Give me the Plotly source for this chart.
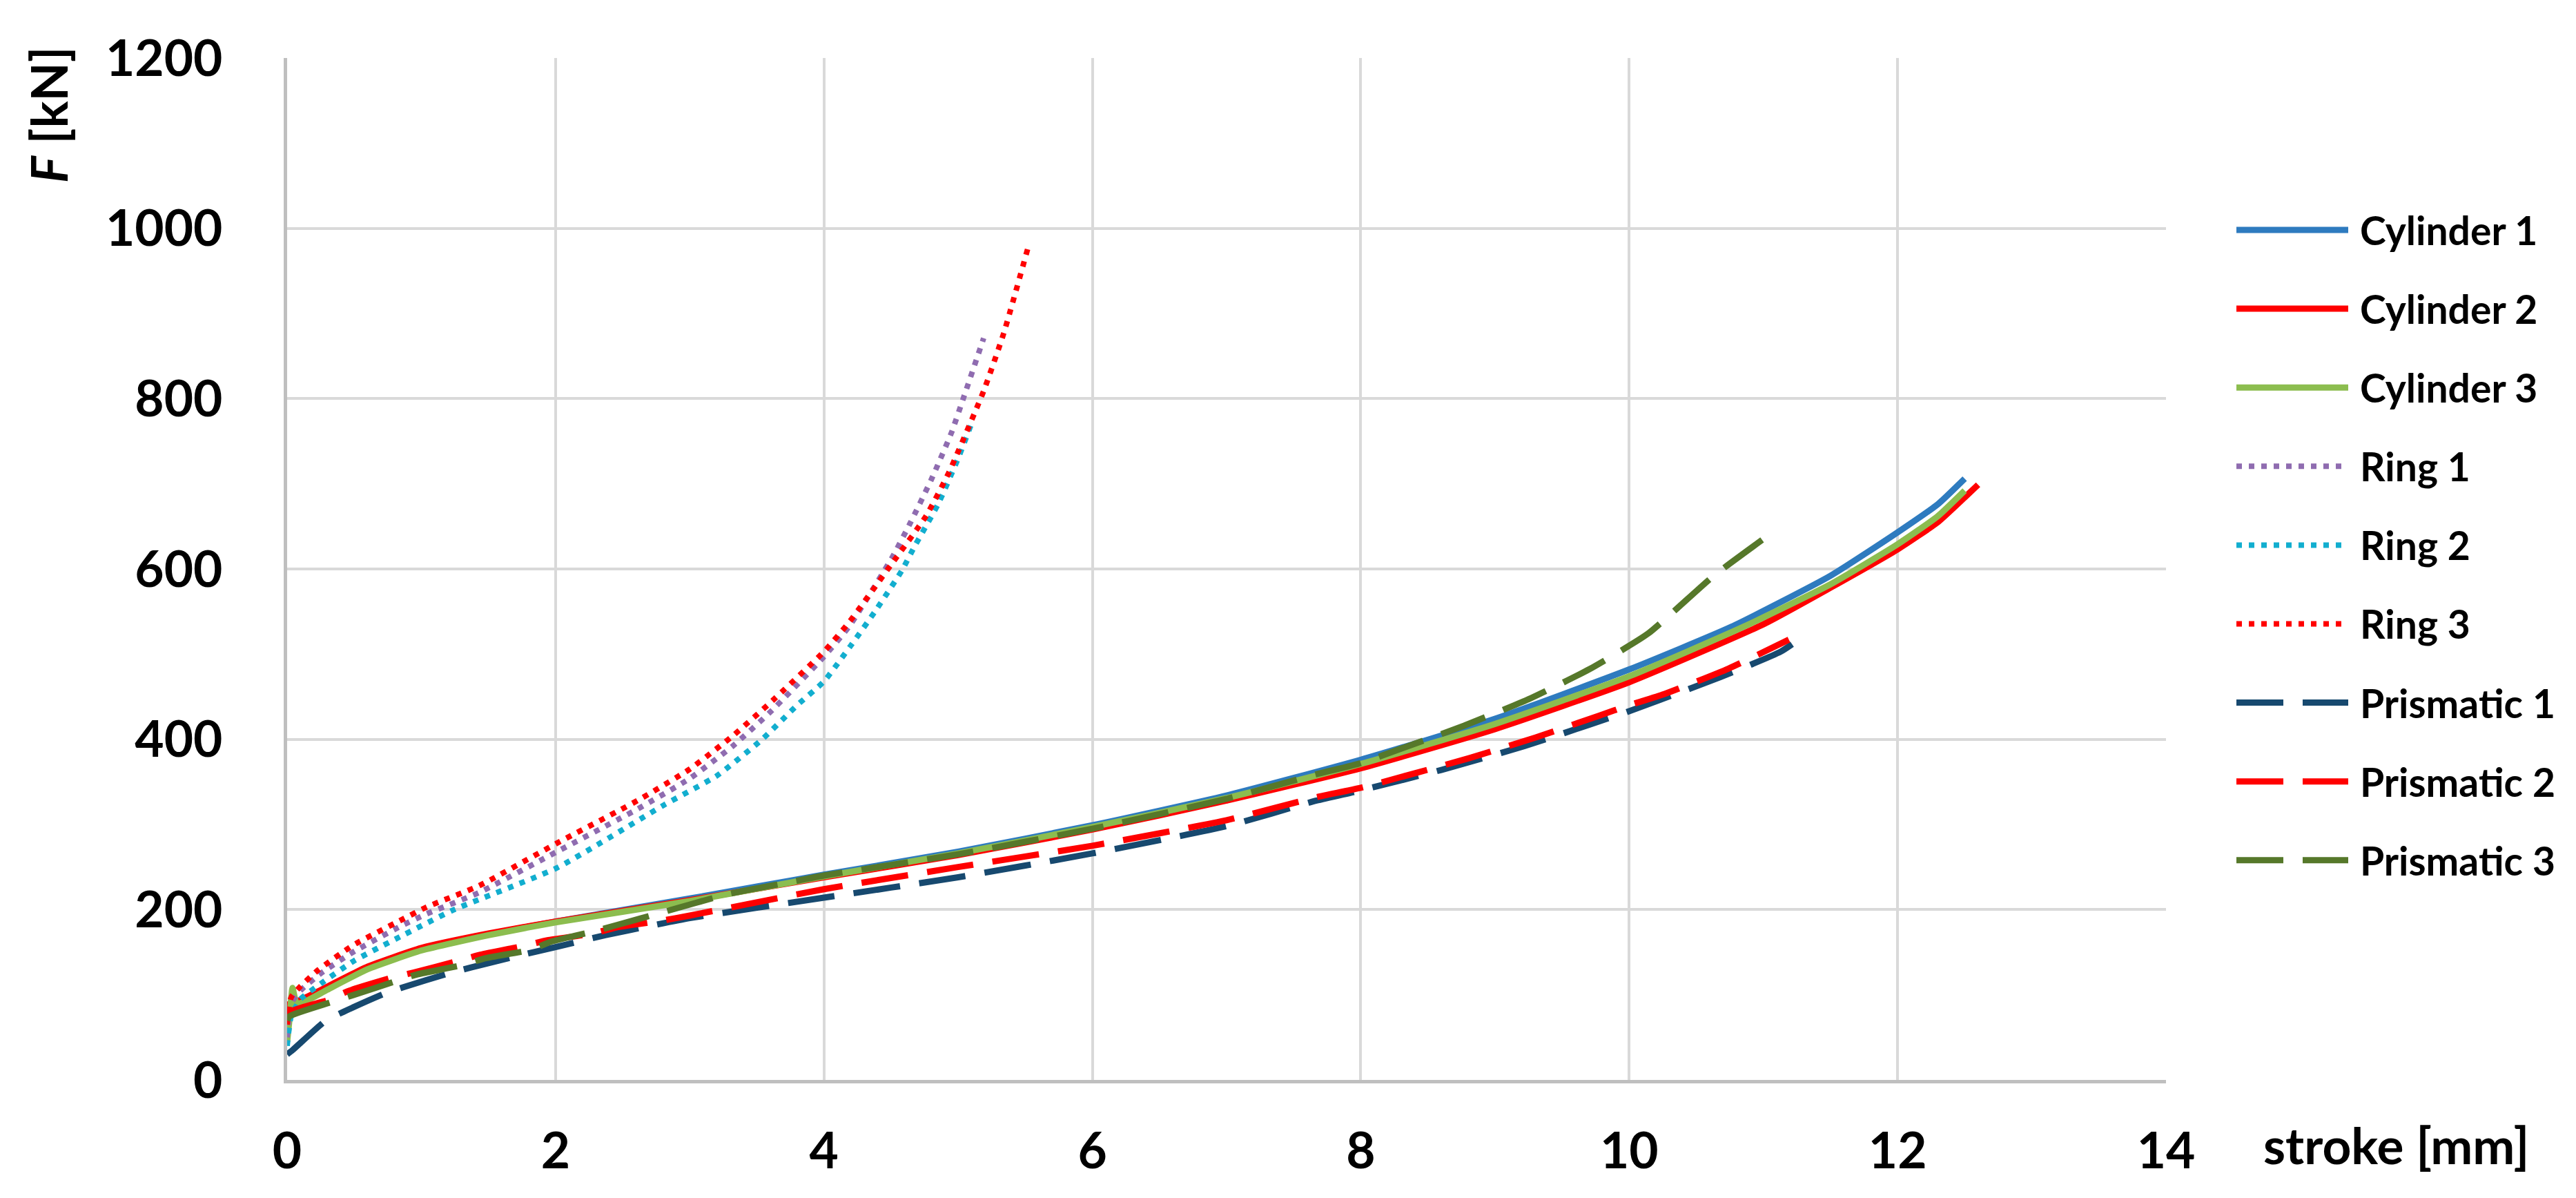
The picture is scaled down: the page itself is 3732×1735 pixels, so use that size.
import plotly.graph_objects as go

# ---------------- data ----------------
c1_x = [0.0, 0.02, 0.1, 0.3, 0.6, 1.0, 1.5, 2.0, 3.0, 4.0, 5.0, 6.0, 7.0, 8.0, 9.0, 10.0, 10.76, 11.5, 12.0, 12.3, 12.5]
c1_y = [50, 78, 90, 109, 131, 153, 171, 186, 213, 241, 268, 299, 334, 376, 424, 482, 532, 592, 643, 676, 706]

c2_x = [0.0, 0.02, 0.1, 0.23, 0.6, 1.0, 1.5, 2.0, 3.0, 4.0, 5.0, 6.0, 7.0, 8.0, 9.0, 10.0, 11.0, 11.5, 12.0, 12.3, 12.5, 12.6]
c2_y = [62, 90, 94, 104, 133, 155, 172, 186, 211, 238, 264, 294, 328, 366, 412, 467, 535, 578, 623, 655, 684, 699]

c3_x = [0.0, 0.02, 0.04, 0.07, 0.12, 0.3, 0.6, 1.0, 1.5, 2.0, 3.0, 4.0, 5.0, 6.0, 7.0, 8.0, 9.0, 10.0, 10.85, 11.5, 12.0, 12.3, 12.5]
c3_y = [45, 75, 108, 90, 91, 106, 130, 152, 170, 185, 210, 239, 266, 297, 331, 371, 418, 474, 532, 582, 629, 662, 692]

r1_x = [0.0, 0.03, 0.1, 0.25, 0.49, 0.84, 1.04, 1.43, 2.01, 2.61, 3.0, 3.32, 3.6, 4.0, 4.19, 4.51, 4.64, 4.8, 4.95, 5.04, 5.19]
r1_y = [50, 90, 105, 125, 150, 180, 195, 220, 268, 318, 354, 392, 432, 497, 533, 614, 653, 705, 760, 801, 871]

r2_x = [0.0, 0.03, 0.1, 0.25, 0.5, 0.84, 1.23, 2.01, 2.81, 3.2, 3.54, 3.8, 4.0, 4.2, 4.38, 4.58, 4.67, 4.85, 5.0, 5.1]
r2_y = [40, 75, 95, 113, 140, 168, 199, 249, 323, 357, 400, 440, 468, 510, 550, 598, 625, 676, 730, 771]

r3_x = [0.0, 0.03, 0.1, 0.23, 0.49, 0.84, 1.04, 1.43, 2.01, 2.61, 3.0, 3.32, 3.6, 4.0, 4.19, 4.5, 4.76, 4.93, 5.19, 5.34, 5.52]
r3_y = [65, 97, 110, 129, 158, 187, 203, 228, 278, 328, 365, 404, 443, 503, 538, 605, 662, 713, 809, 877, 977]

p1_x = [0.0, 0.04, 0.29, 0.42, 0.72, 0.87, 1.2, 1.37, 1.7, 2.0, 2.37, 2.71, 3.0, 4.0, 5.0, 6.0, 7.0, 7.67, 8.0, 8.6, 9.22, 9.7, 10.0, 10.68, 11.13, 11.29]
p1_y = [30, 35, 70, 80, 101, 109, 125, 132, 145, 156, 170, 181, 190, 214, 238, 266, 298, 328, 340, 364, 392, 417, 433, 473, 503, 520]

p2_x = [0.0, 0.02, 0.31, 0.45, 0.78, 0.94, 1.28, 1.44, 1.78, 1.94, 2.28, 2.45, 2.79, 3.0, 4.0, 5.0, 6.0, 7.0, 7.67, 8.0, 8.81, 9.3, 9.78, 10.0, 10.26, 10.74, 11.19]
p2_y = [70, 80, 94, 104, 120, 126, 140, 147, 158, 164, 172, 179, 187, 193, 224, 250, 275, 305, 332, 343, 378, 402, 428, 440, 453, 483, 517]

p3_x = [0.0, 0.02, 0.32, 0.48, 0.81, 0.97, 1.31, 1.48, 1.82, 1.96, 2.3, 2.46, 2.8, 3.28, 3.77, 4.0, 5.0, 6.0, 7.0, 7.67, 8.0, 8.3, 8.77, 9.25, 9.7, 10.14, 10.63, 11.06]
p3_y = [70, 75, 91, 99, 116, 124, 135, 143, 153, 162, 175, 182, 197, 218, 233, 240, 265, 295, 330, 359, 372, 389, 416, 447, 482, 524, 592, 642]

series_names = ["Cylinder 1", "Cylinder 2", "Cylinder 3", "Ring 1", "Ring 2", "Ring 3",
                "Prismatic 1", "Prismatic 2", "Prismatic 3"]
series_x = [c1_x, c2_x, c3_x, r1_x, r2_x, r3_x, p1_x, p2_x, p3_x]
series_y = [c1_y, c2_y, c3_y, r1_y, r2_y, r3_y, p1_y, p2_y, p3_y]

x_ticks = [0, 2, 4, 6, 8, 10, 12, 14]
y_ticks = [0, 200, 400, 600, 800, 1000, 1200]

# ---------------- styles ----------------
colors = ["#2E7BBF", "#FF0000", "#8CBD4F", "#8F6CB0", "#12AECF", "#FF0000",
          "#17496F", "#FF0000", "#56782A"]
SOLID, DOT, DASH = "solid", "8px,10px", "68px,28px"
dashes = [SOLID, SOLID, SOLID, DOT, DOT, DOT, DASH, DASH, DASH]
widths = [9, 9, 9, 8, 8, 8, 9, 9, 9]

FONT = "Lato"
W, H = 3732, 1735
L, R, T, B = 408, 3130, 76, 1556  # plot area in pixels

def px(xp):
    return (xp - L) / (R - L)

def py(yp):
    return (B - yp) / (B - T)

fig = go.Figure()
for name, xs, ys, c, d, w in zip(series_names, series_x, series_y, colors, dashes, widths):
    fig.add_trace(go.Scatter(x=xs, y=ys, name=name, mode="lines",
                             line=dict(color=c, dash=d, width=w, shape="spline", smoothing=0.5),
                             showlegend=False))

# manual legend (long sample lines like the original)
shapes = []
annotations = []
for i, (name, c, d, w) in enumerate(zip(series_names, colors, dashes, widths)):
    yy = 325 + 114.1 * i
    shapes.append(dict(type="line", xref="paper", yref="paper",
                       x0=px(3232), x1=px(3394), y0=py(yy), y1=py(yy),
                       line=dict(color=c, dash=d, width=w)))
    annotations.append(dict(text=f"<b>{name}</b>", xref="paper", yref="paper",
                            x=px(3409), y=py(yy), xanchor="left", yanchor="middle",
                            showarrow=False, font=dict(family=FONT, size=57, color="black")))

annotations.append(dict(text="<b>stroke [mm]</b>", xref="paper", yref="paper",
                        x=px(3269), y=py(1650), xanchor="left", yanchor="middle",
                        showarrow=False, font=dict(family=FONT, size=73, color="black")))
annotations.append(dict(text="<b><i>F</i> [kN]</b>", xref="paper", yref="paper",
                        x=px(62), y=py(158), xanchor="center", yanchor="middle", textangle=-90,
                        showarrow=False, font=dict(family=FONT, size=73, color="black")))

fig.update_layout(
    width=W, height=H,
    margin=dict(l=L, r=W - R, t=T, b=H - B, pad=0),
    paper_bgcolor="white", plot_bgcolor="white",
    font=dict(family=FONT, color="black"),
    shapes=shapes, annotations=annotations,
    showlegend=False,
)
fig.update_xaxes(range=[0, 14], tickvals=x_ticks, ticktext=[f"<b>{v}</b>" for v in x_ticks],
                 showgrid=True, gridcolor="#D9D9D9", gridwidth=4,
                 showline=True, linecolor="#BFBFBF", linewidth=5,
                 zeroline=False, ticks="", ticklabelstandoff=35,
                 tickfont=dict(family=FONT, size=73, color="black"))
fig.update_yaxes(range=[0, 1200], tickvals=y_ticks, ticktext=[f"<b>{v}</b>" for v in y_ticks],
                 showgrid=True, gridcolor="#D9D9D9", gridwidth=4,
                 showline=True, linecolor="#BFBFBF", linewidth=5,
                 zeroline=False, ticks="", ticklabelstandoff=74,
                 tickfont=dict(family=FONT, size=73, color="black"))

fig.write_html("out.html")
